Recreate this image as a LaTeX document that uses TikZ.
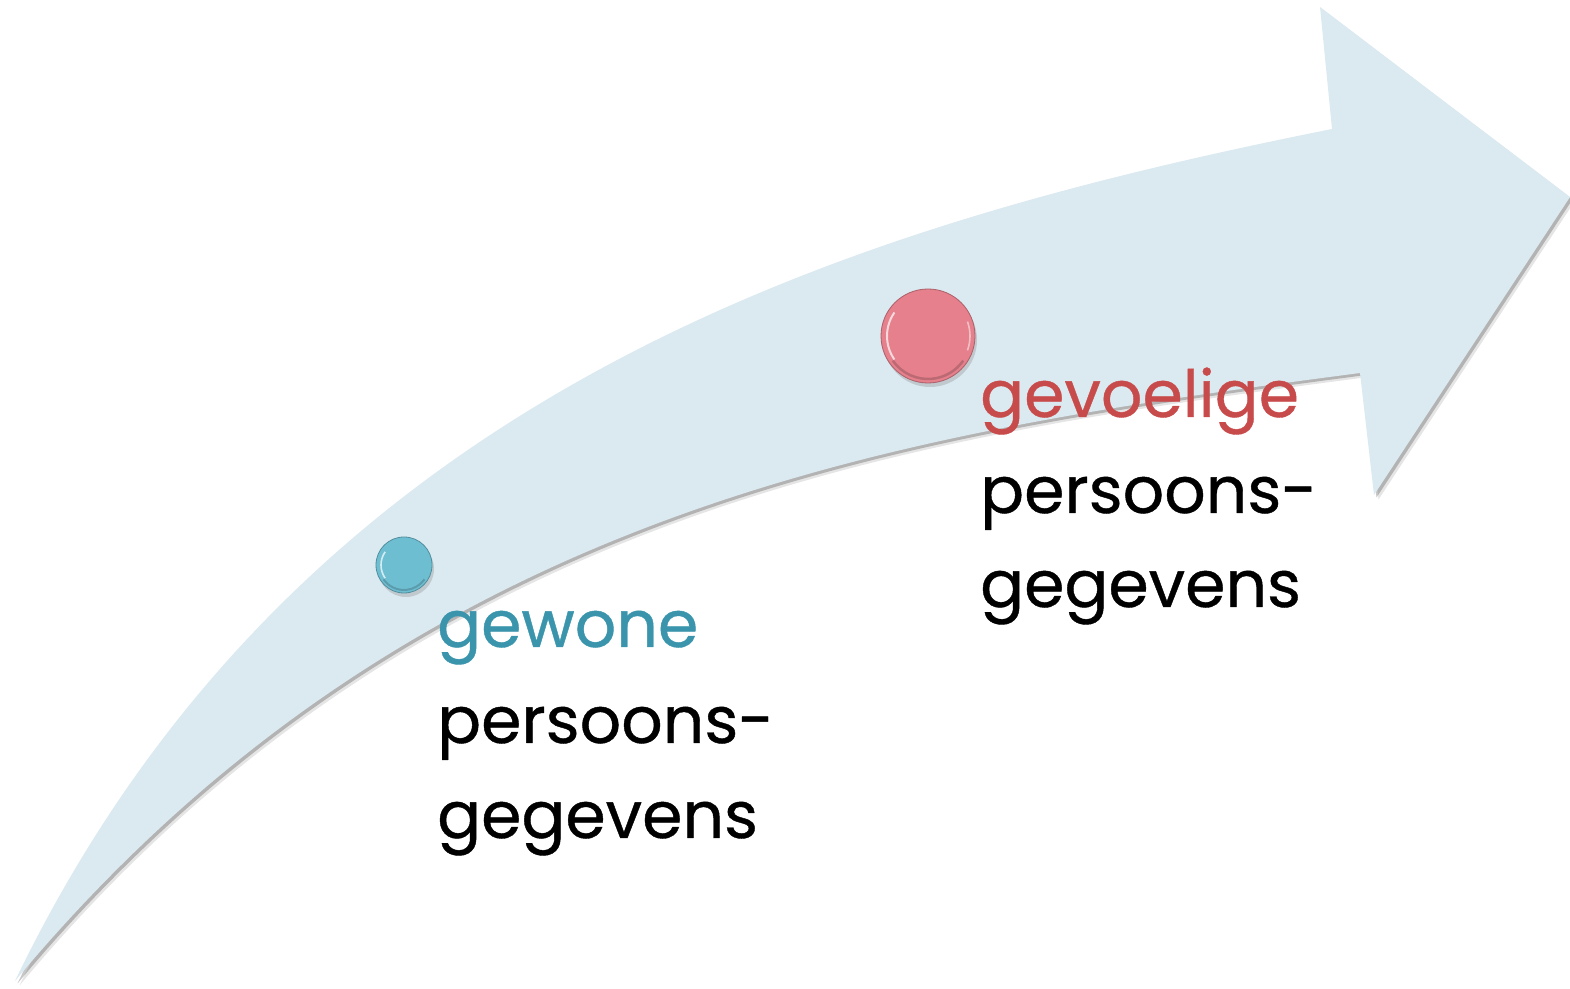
\documentclass[tikz,border=0pt]{standalone}
\usepackage{fontspec}
\setmainfont{Poppins}[FakeBold=0.6]
\usetikzlibrary{shadows}

\definecolor{flowblue}{RGB}{219,233,240}
\definecolor{lowblue}{RGB}{58,148,172}
\definecolor{highred}{RGB}{200,75,75}
\definecolor{dotblue}{RGB}{110,190,210}
\definecolor{dotpink}{RGB}{229,128,140}

\begin{document}
\begin{tikzpicture}[line join=bevel,
  flow/.style={fill=flowblue,
    preaction={fill=black,opacity=.10,transform canvas={shift={(4.5bp,-4.5bp)}}},
    preaction={fill=black,opacity=.22,transform canvas={shift={(2.5bp,-2.5bp)}}}},
  dot/.style={circle,inner sep=0pt,line width=.8bp,
    drop shadow={shadow xshift=2bp,shadow yshift=-4bp,opacity=.3}},
  lbl/.style={anchor=base west,inner sep=0pt,font=\fontsize{65bp}{70bp}\selectfont},
]
%%
\useasboundingbox (0bp,0bp) rectangle (1570bp,989bp);
\fill [flow] (15bp,8bp) ..controls (300bp,600bp) and (852bp,764bp) .. (1332bp,860bp)
  -- (1320bp,982bp) -- (1570bp,792bp) -- (1374bp,494bp) -- (1360bp,616bp)
  ..controls (910bp,557bp) and (415bp,488bp) .. (15bp,8bp) -- cycle;
%
\node (dot_0) at (404bp,424bp) [dot,minimum size=56bp,fill=dotblue,draw=dotblue!75!black] {};
  \node (dot_1) at (928bp,653bp) [dot,minimum size=94bp,fill=dotpink,draw=dotpink!75!black] {};
  \draw [white,opacity=.7,line width=1.6bp] ([shift={(145:23bp)}]dot_0.center) arc [start angle=145,end angle=215,radius=23bp];
  \draw [dotblue!70!black,opacity=.6,line width=2bp] ([shift={(215:25bp)}]dot_0.center) arc [start angle=215,end angle=325,radius=25bp];
  \draw [white,opacity=.7,line width=2bp] ([shift={(145:41bp)}]dot_1.center) arc [start angle=145,end angle=215,radius=41bp];
  \draw [white,opacity=.5,line width=1.6bp] ([shift={(20:42bp)}]dot_1.center) arc [start angle=20,end angle=-20,radius=42bp];
  \draw [dotpink!70!black,opacity=.6,line width=2.5bp] ([shift={(215:43bp)}]dot_1.center) arc [start angle=215,end angle=325,radius=43bp];
%
\node (text_0) at (437bp,342bp) [lbl,text=lowblue] {gewone};
  \node (text_1) at (437bp,246bp) [lbl] {persoons-};
  \node (text_2) at (437bp,151bp) [lbl] {gegevens};
  \node (text_3) at (980bp,572bp) [lbl,text=highred] {gevoelige};
  \node (text_4) at (980bp,476bp) [lbl] {persoons-};
  \node (text_5) at (980bp,382bp) [lbl] {gegevens};
%
\end{tikzpicture}
\end{document}
